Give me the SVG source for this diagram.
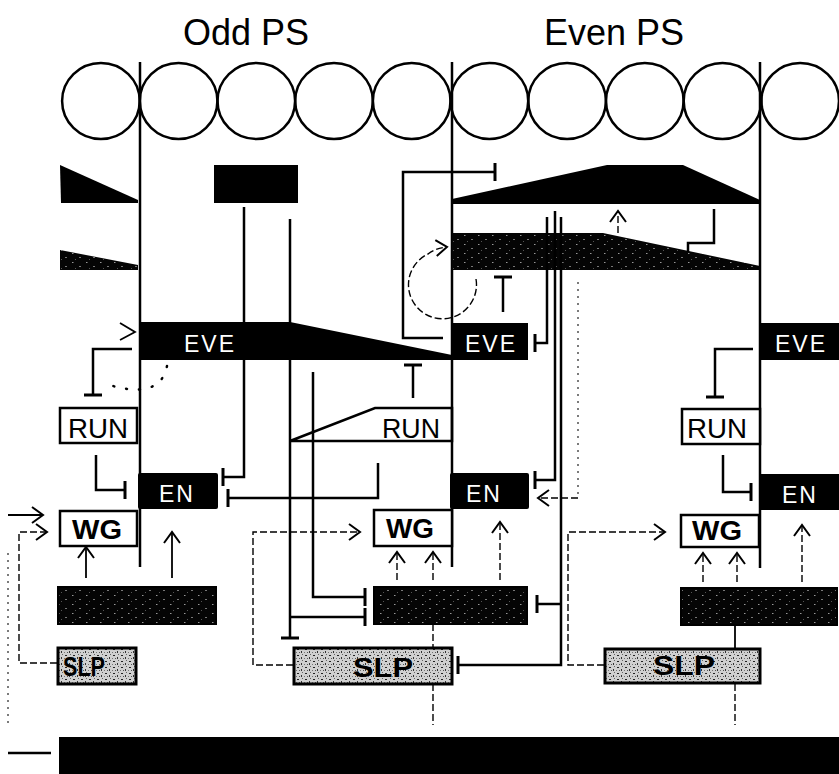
<svg xmlns="http://www.w3.org/2000/svg" width="839" height="774" viewBox="0 0 839 774">
<defs>
<style>
.ln{fill:none;stroke:#000;stroke-width:2.5}
.th{fill:none;stroke:#000;stroke-width:1.8}
.ds{fill:none;stroke:#000;stroke-width:1.4;stroke-dasharray:7 3}
.dt{fill:none;stroke:#444;stroke-width:1.4;stroke-dasharray:2 5}
.box{fill:#fff;stroke:#000;stroke-width:2.5}
.wt{fill:#fff;font-family:"Liberation Sans",Arial,sans-serif;font-size:23px;letter-spacing:2px;text-anchor:middle}
.bk{fill:#000;font-family:"Liberation Sans",Arial,sans-serif;font-size:27px;text-anchor:middle}
.bd{fill:#000;font-family:"Liberation Sans",Arial,sans-serif;font-size:27px;font-weight:bold;text-anchor:middle}
.ttl{fill:#000;font-family:"Liberation Sans",Arial,sans-serif;font-size:36px;text-anchor:middle}
.tee{marker-end:url(#tee)}
.arr{marker-end:url(#arr)}
.slp{fill:url(#lt);stroke:#000;stroke-width:3}
.hb{fill:url(#dk);stroke:#000;stroke-width:2}
</style>
<marker id="tee" markerUnits="userSpaceOnUse" markerWidth="6" markerHeight="22" viewBox="-3 -11 6 22" refX="0" refY="0" orient="auto"><path d="M0,-9V9" stroke="#000" stroke-width="3"/></marker>
<marker id="arr" markerUnits="userSpaceOnUse" markerWidth="16" markerHeight="20" viewBox="-13 -10 16 20" refX="0" refY="0" orient="auto"><path d="M-11,-8L0,0L-11,8" fill="none" stroke="#000" stroke-width="2"/></marker>
<pattern id="dk" width="14" height="9" patternUnits="userSpaceOnUse"><rect width="14" height="9" fill="#050505"/><rect x="2" y="1" width="1.5" height="1" fill="#999"/><rect x="9" y="5" width="2" height="1" fill="#777"/><rect x="5" y="7" width="1" height="1" fill="#555"/></pattern>
<pattern id="lt" width="8" height="6" patternUnits="userSpaceOnUse"><rect width="8" height="6" fill="#d0d0d0"/><rect x="1" y="1" width="2" height="1" fill="#222"/><rect x="5" y="3" width="1" height="2" fill="#333"/><rect x="3" y="4" width="1" height="1" fill="#555"/><rect x="6" y="0" width="1" height="1" fill="#666"/><rect x="0" y="4" width="1" height="1" fill="#777"/></pattern>
</defs>

<g id="titles">
<text class="ttl" x="246" y="45">Odd PS</text>
<text class="ttl" x="614" y="45">Even PS</text>
</g>

<g id="cells" fill="none" stroke="#000" stroke-width="2.5">
<ellipse cx="100.9" cy="101" rx="38.8" ry="38"/>
<ellipse cx="178.6" cy="101" rx="38.8" ry="38"/>
<ellipse cx="256.3" cy="101" rx="38.8" ry="38"/>
<ellipse cx="334" cy="101" rx="38.8" ry="38"/>
<ellipse cx="411.7" cy="101" rx="38.8" ry="38"/>
<ellipse cx="489.4" cy="101" rx="38.8" ry="38"/>
<ellipse cx="567.1" cy="101" rx="38.8" ry="38"/>
<ellipse cx="644.8" cy="101" rx="38.8" ry="38"/>
<ellipse cx="722.5" cy="101" rx="38.8" ry="38"/>
<ellipse cx="800.2" cy="101" rx="38.8" ry="38"/>
</g>

<g id="boundaries" class="ln">
<path d="M140,62V567M452,62V567M760,62V568"/>
</g>

<g id="odd-gradients">
<polygon points="60,165 138,200 138,203 61,203" fill="#000"/>
<polygon points="60,250 138,265 138,270 60,270" fill="url(#dk)"/>
</g>
<g id="odd-block"><rect x="214" y="165" width="84" height="38" fill="#000"/></g>
<g id="even-gradients">
<polygon points="452,199 607,165 683,165 760,200 760,204 452,204" fill="#000"/>
<polygon points="452,233 603,233 760,266 760,270 452,270" fill="url(#dk)"/>
</g>

<g id="connectors">
<path class="ln tee" d="M244,207V477H223"/>
<path class="ln tee" d="M290,219V638"/>
<path class="ln tee" d="M290,617H365"/>
<path class="ln tee" d="M313,372V597H365"/>
<path class="ln tee" d="M378,463V498H228"/>
<path class="ln tee" d="M413,398V365"/>
<path class="ln tee" d="M443,338H403V172H495"/>
<path class="ln tee" d="M547,217V343H535"/>
<path class="ln tee" d="M555,211V480H535"/>
<path class="ln tee" d="M561,217V665H458"/>
<path class="ln tee" d="M561,604H537"/>
<path class="ln tee" d="M503,312V277"/>
<path class="ln" d="M714,209V243H688V252"/>
<path class="ln tee" d="M132,349H93V395"/>
<path class="ln tee" d="M753,349H715V397"/>
<path class="ln tee" d="M96,455V490H125"/>
<path class="ln tee" d="M723,455V492H751"/>
<path class="th" d="M120,323L135,332L120,340"/>
<path d="M167,366Q160,402 103,383" fill="none" stroke="#000" stroke-width="2.5" stroke-dasharray="1 12" stroke-linecap="round"/>
<path class="ds arr" d="M476,279A34,34 0 1 1 428,254Q436,248 447,247" stroke-dasharray="4 3"/>
<path class="ds arr" d="M618,233V211" stroke-dasharray="3 3"/>
<path class="dt" d="M578,282V498"/>
<path class="ds arr" d="M578,498H538"/>
<path class="ds arr" d="M293,665H253V532H360"/>
<path class="ds arr" d="M604,665H568V532H665"/>
<path class="ds arr" d="M57,663H19V532H47"/>
<path class="th arr" d="M8,515H43"/>
<path class="dt" d="M8,553V725"/>
<path class="ln" d="M8,753H51"/>
<path class="th arr" d="M86,578V547"/>
<path class="th arr" d="M172,578V532"/>
<path class="ds arr" d="M397,580V552"/>
<path class="ds arr" d="M433,580V552"/>
<path class="ds arr" d="M500,580V522"/>
<path class="ds arr" d="M703,582V553"/>
<path class="ds arr" d="M737,582V553"/>
<path class="ds arr" d="M802,582V525"/>
<path class="ds" d="M433,624V648M433,684V725M735,684V725"/>
<path class="th" d="M735,625V648"/>
</g>

<g id="eve-odd">
<polygon points="140,322 290,322 452,355 452,360 140,360" fill="#000"/>
<text class="wt" x="210" y="352">EVE</text>
</g>
<g id="eve-even">
<rect x="452" y="323" width="76" height="37" fill="#000"/>
<text class="wt" x="491" y="352">EVE</text>
</g>
<g id="eve-right">
<rect x="760" y="323" width="79" height="37" fill="#000"/>
<text class="wt" x="801" y="352">EVE</text>
</g>

<g id="run-odd">
<rect class="box" x="60" y="408" width="77" height="35"/>
<text class="bk" x="98" y="438" textLength="60" lengthAdjust="spacingAndGlyphs">RUN</text>
</g>
<g id="run-mid">
<polygon points="290,441 375,408 452,408 452,441" fill="none" stroke="#000" stroke-width="2.5"/>
<text class="bk" x="411" y="438" textLength="58" lengthAdjust="spacingAndGlyphs">RUN</text>
</g>
<g id="run-right">
<rect class="box" x="682" y="409" width="78" height="35"/>
<text class="bk" x="717" y="438" textLength="60" lengthAdjust="spacingAndGlyphs">RUN</text>
</g>

<g id="en-odd">
<rect x="138" y="473" width="80" height="36" rx="2" fill="#000"/>
<text class="wt" x="177" y="502">EN</text>
</g>
<g id="en-even">
<rect x="450" y="473" width="79" height="36" rx="2" fill="#000"/>
<text class="wt" x="484" y="502">EN</text>
</g>
<g id="en-right">
<rect x="759" y="474" width="80" height="36" fill="#000"/>
<text class="wt" x="800" y="503">EN</text>
</g>

<g id="wg-odd">
<rect class="box" x="60" y="511" width="77" height="35"/>
<text class="bd" x="97" y="539" textLength="50" lengthAdjust="spacingAndGlyphs">WG</text>
</g>
<g id="wg-even">
<rect class="box" x="374" y="510" width="78" height="36"/>
<text class="bd" x="410" y="538" textLength="48" lengthAdjust="spacingAndGlyphs">WG</text>
</g>
<g id="wg-right">
<rect class="box" x="681" y="515" width="78" height="32"/>
<text class="bd" x="717" y="540" textLength="50" lengthAdjust="spacingAndGlyphs">WG</text>
</g>

<g id="hh-odd"><rect class="hb" x="58" y="587" width="158" height="37"/></g>
<g id="hh-even"><rect class="hb" x="374" y="587" width="153" height="37"/></g>
<g id="hh-right"><rect class="hb" x="681" y="588" width="156" height="37"/></g>

<g id="slp-odd">
<rect class="slp" x="58" y="648" width="78" height="36"/>
<text class="bd" x="84" y="676" textLength="42" lengthAdjust="spacingAndGlyphs">SLP</text>
</g>
<g id="slp-even">
<rect class="slp" x="294" y="648" width="158" height="36"/>
<text class="bd" x="383" y="677" textLength="60" lengthAdjust="spacingAndGlyphs">SLP</text>
</g>
<g id="slp-right">
<rect class="slp" x="605" y="649" width="155" height="34"/>
<text class="bd" x="684" y="675" textLength="62" lengthAdjust="spacingAndGlyphs">SLP</text>
</g>

<g id="bottom-bar"><rect x="59" y="737" width="780" height="37" fill="#000"/></g>
</svg>
